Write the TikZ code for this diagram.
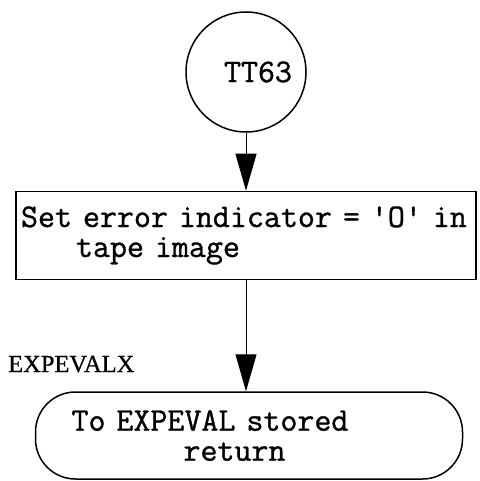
\documentclass[tikz,border=0pt]{standalone}
\usepackage{fontspec}
\newfontfamily\labelfont[FakeBold=0.8]{Liberation Serif}
\newfontfamily\typefont[FakeBold=1]{Latin Modern Mono}
\usepackage{tikz}
\usetikzlibrary{arrows.meta, positioning}

\begin{document}
\begin{tikzpicture}[x=1pt, y=-1pt, node distance=58pt,
  every node/.style={font=\fontsize{33}{30}\selectfont\typefont},
  flow/.style={draw, line width=1.5pt, inner sep=0pt},
  arrow/.style={line width=1pt, -{Triangle[length=37pt, width=21pt]}}]
  \useasboundingbox (0,0) rectangle (479,481);
  \node (T1) [circle, flow, minimum size=120pt] at (246,72) {\hspace*{24pt}TT63};
  \node (B1) [rectangle, flow, below=of T1, text width=450pt, inner xsep=5pt, minimum height=88pt, align=left] {Set error indicator = 'O' in\\\hspace*{55pt}tape image};
  \node (E1) [rectangle, flow, rounded corners=40pt, below=111pt of B1, xshift=3pt, text width=355pt, inner xsep=36pt, minimum height=87pt, align=left] {To EXPEVAL stored\\\hspace*{112pt}return};
  \node (L1) [anchor=base west, inner sep=0pt, font=\fontsize{24.5}{24}\selectfont\labelfont] at (8,372) {EXPEVALX};
  \draw[arrow] (T1.south) -- (T1.south |- B1.north);
  \draw[arrow] (B1.south) -- (B1.south |- E1.north);
\end{tikzpicture}
\end{document}
